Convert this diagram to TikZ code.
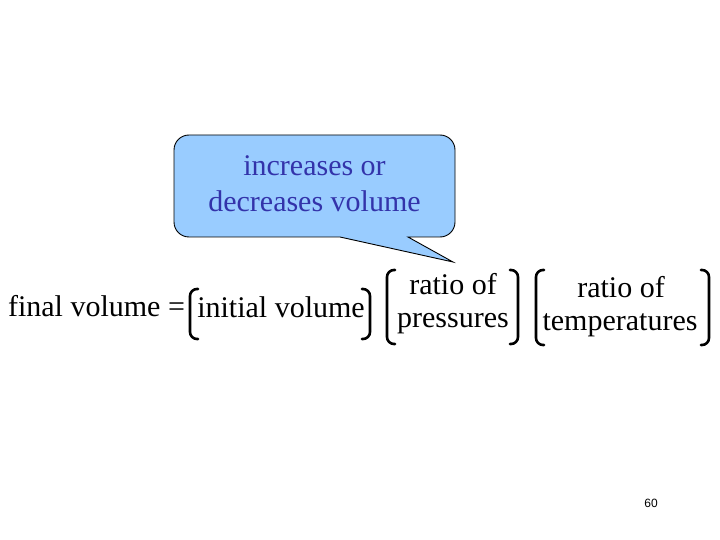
\documentclass[tikz,border=0pt]{standalone}
\usepackage{fontspec}
\setmainfont{Liberation Serif}
\newfontfamily\pagefont{Liberation Sans}
\usetikzlibrary{positioning}
\definecolor{calloutfill}{RGB}{153,204,255}
\definecolor{callouttext}{RGB}{51,51,170}
\tikzset{
  eqtext/.style={anchor=base,inner sep=0pt,font=\fontsize{30bp}{34bp}\selectfont},
  bracket/.style={line width=2.6bp,rounded corners=7bp,line cap=round},
  callout/.style={draw=black,line width=0.9bp,fill=calloutfill},
}

\begin{document}
\begin{tikzpicture}[x=1bp,y=-1bp]
  \useasboundingbox (0,0) rectangle (720,540);
  % speech balloon
  \draw[callout] (340,237) -- (453,262) -- (408,237) [rounded corners=15bp]
    -- (455,237) -- (455,135) -- (174,135) -- (174,237) [sharp corners] -- cycle;
  \node[inner sep=0pt,align=center,text=callouttext,
        font=\fontsize{30bp}{36bp}\selectfont] (note) at (314.5,184)
        {increases or\\decreases volume};
  % the equation
  \node[eqtext] (final) at (96.5,316) {final volume =};
  \node[eqtext] (initial) at (281,317) {initial volume};
  \node[eqtext] (ratioP) at (453,294) {ratio of};
  \node[eqtext] (press) at (453,327) {pressures};
  \node[eqtext] (ratioT) at (621,297) {ratio of};
  \node[eqtext] (temps) at (620,330) {temperatures};
  \draw[bracket] (198,289) -- (190,289) -- (190,339) -- (198,339);
  \draw[bracket] (362,289) -- (370,289) -- (370,339) -- (362,339);
  \draw[bracket] (395,270) -- (387,270) -- (387,344) -- (395,344);
  \draw[bracket] (510,270) -- (518,270) -- (518,344) -- (510,344);
  \draw[bracket] (544,270) -- (536,270) -- (536,345) -- (544,345);
  \draw[bracket] (701,270) -- (709,270) -- (709,345) -- (701,345);
  \node[font=\pagefont\fontsize{12bp}{14bp}\selectfont] (page) at (651,503) {60};
\end{tikzpicture}
\end{document}
